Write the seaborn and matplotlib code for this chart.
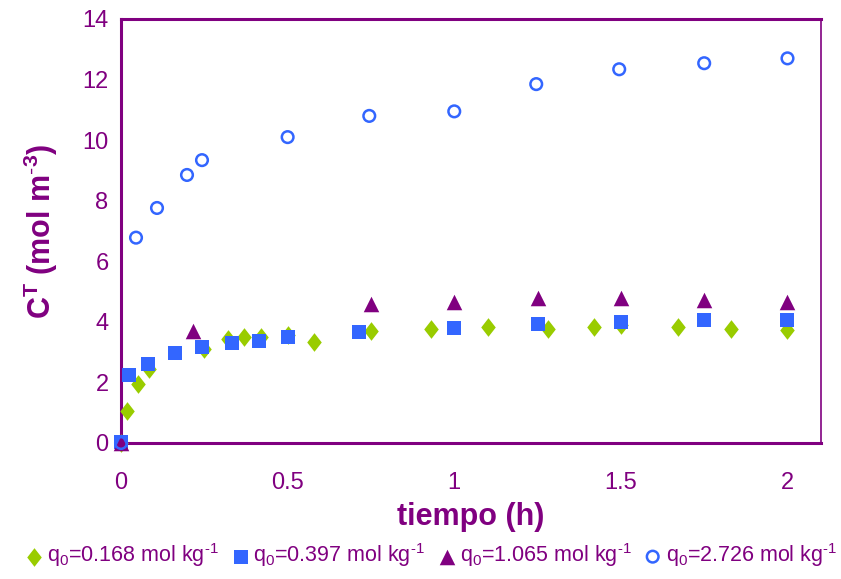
import numpy as np
import pandas as pd
import matplotlib
matplotlib.use("Agg")
import matplotlib.pyplot as plt
import seaborn as sns

# ---- data ----
t_a = [0.0, 0.017, 0.05, 0.083, 0.25, 0.32, 0.37, 0.42, 0.5, 0.58, 0.75, 0.93, 1.1, 1.28, 1.42, 1.5, 1.67, 1.83, 2.0]
c_a = [0.0, 1.05, 1.95, 2.45, 3.1, 3.42, 3.5, 3.5, 3.55, 3.33, 3.7, 3.76, 3.83, 3.76, 3.83, 3.9, 3.83, 3.76, 3.74]

t_b = [0.0, 0.025, 0.08, 0.163, 0.243, 0.333, 0.414, 0.5, 0.715, 1.0, 1.25, 1.5, 1.75, 2.0]
c_b = [0.03, 2.24, 2.6, 2.96, 3.16, 3.3, 3.38, 3.5, 3.66, 3.8, 3.92, 4.0, 4.06, 4.06]

t_c = [0.0, 0.217, 0.75, 1.0, 1.25, 1.5, 1.75, 2.0]
c_c = [0.0, 3.7, 4.59, 4.65, 4.8, 4.8, 4.72, 4.65]

t_d = [0.0, 0.045, 0.108, 0.198, 0.243, 0.5, 0.745, 1.0, 1.246, 1.495, 1.75, 2.0]
c_d = [0.0, 6.78, 7.76, 8.85, 9.34, 10.1, 10.8, 10.95, 11.85, 12.34, 12.54, 12.7]

labels = [r"q$_0$=0.168 mol kg$^{\text{-1}}$", r"q$_0$=0.397 mol kg$^{\text{-1}}$",
          r"q$_0$=1.065 mol kg$^{\text{-1}}$", r"q$_0$=2.726 mol kg$^{\text{-1}}$"]
xticks = [0, 0.5, 1, 1.5, 2]
xticklabels = ["0", "0.5", "1", "1.5", "2"]
yticks = [0, 2, 4, 6, 8, 10, 12, 14]

PURPLE = "#800080"
GREEN = "#99CC00"
BLUE = "#3366FF"

sns.set_style("white")
plt.rcParams['font.family'] = ['Liberation Sans', 'DejaVu Sans']
plt.rcParams['mathtext.fontset'] = 'custom'
plt.rcParams['mathtext.rm'] = 'Liberation Sans'
plt.rcParams['mathtext.it'] = 'Liberation Sans:italic'
plt.rcParams['mathtext.bf'] = 'Liberation Sans:bold'

fig = plt.figure(figsize=(8.41, 5.79), dpi=100)
ax = fig.add_axes([0.1439, 0.2349, 0.8321, 0.7323])

diamond = [(0, 1), (0.78, 0), (0, -1), (-0.78, 0), (0, 1)]

sns.scatterplot(x=t_a, y=c_a, ax=ax, marker=diamond, s=180, color=GREEN,
                edgecolor=GREEN, linewidth=0, label=labels[0], clip_on=False, zorder=3)
sns.scatterplot(x=t_b, y=c_b, ax=ax, marker="s", s=90, color=BLUE,
                edgecolor=BLUE, linewidth=0, label=labels[1], clip_on=False, zorder=4)
sns.scatterplot(x=t_c, y=c_c, ax=ax, marker="^", s=125, color=PURPLE,
                edgecolor=PURPLE, linewidth=0, label=labels[2], clip_on=False, zorder=5)
sns.scatterplot(x=t_d, y=c_d, ax=ax, marker="o", s=70, facecolor="none",
                edgecolor=BLUE, linewidth=1.8, label=labels[3], clip_on=False, zorder=6)

ax.set_xlim(0, 2.1)
ax.set_ylim(0, 14)
ax.set_xticks(xticks)
ax.set_xticklabels(xticklabels)
ax.set_yticks(yticks)

for side in ["left", "bottom", "top"]:
    ax.spines[side].set_color(PURPLE)
    ax.spines[side].set_linewidth(2.2)
ax.spines["right"].set_color(PURPLE)
ax.spines["right"].set_linewidth(1.2)

ax.tick_params(axis="both", colors=PURPLE, labelcolor=PURPLE, labelsize=17,
               direction="out", length=6, width=2)
ax.tick_params(axis="x", pad=15, width=1.6)
ax.tick_params(axis="y", pad=3)

ax.set_xlabel("tiempo (h)", fontsize=22, fontweight="bold", color=PURPLE, labelpad=6)
ax.set_ylabel(r"C$^{\mathbf{T}}$ (mol m$^{\text{-}\mathbf{3}}$)", fontsize=22,
              fontweight="bold", color=PURPLE, labelpad=16)

leg = ax.legend(loc="center", bbox_to_anchor=(0.445, -0.265), ncol=4, frameon=False,
                fontsize=15.5, handlelength=0.6, handletextpad=0.3, columnspacing=0.7,
                borderaxespad=0)
for txt in leg.get_texts():
    txt.set_color(PURPLE)

fig.savefig("out.png", dpi=100)
